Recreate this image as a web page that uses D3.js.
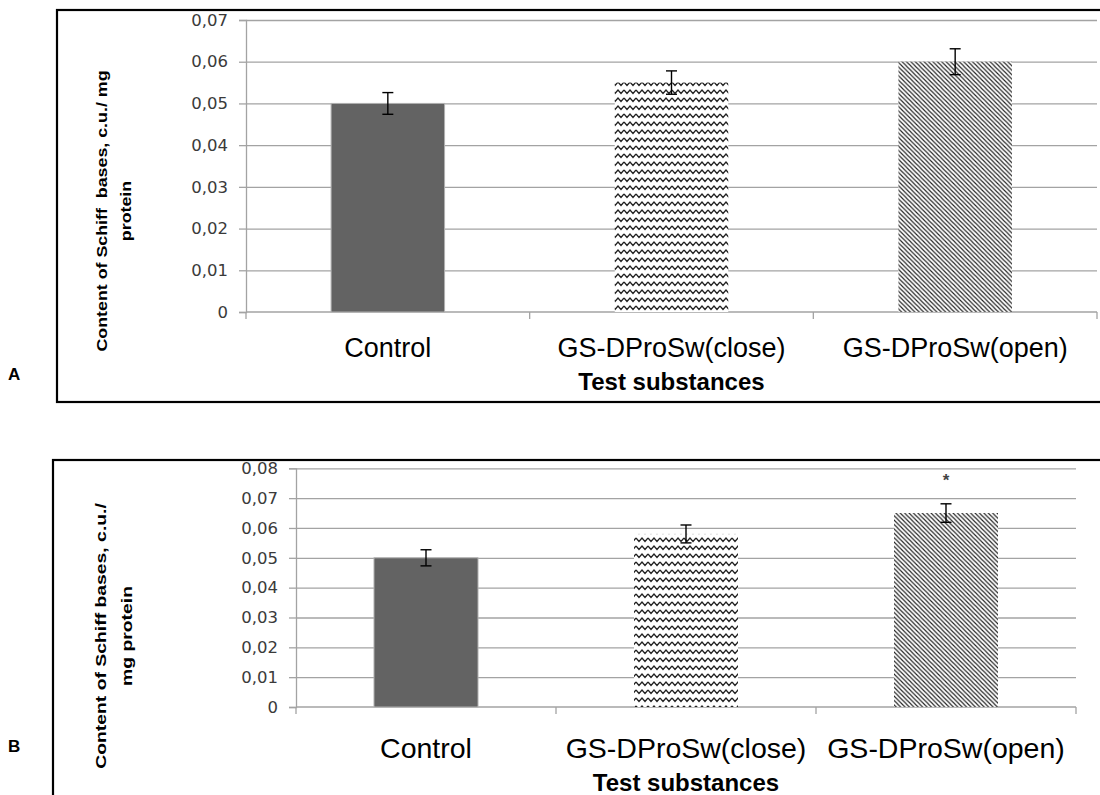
<html><head>
  <script src="https://d3js.org/d3.v7.min.js"></script>
  <style>
  body { margin: 0; background: #fff; }
  .grid line { stroke: #a3a3a3; stroke-width: 1.3; }
  .grid .domain { stroke: none; }
  .yaxis text { font-family: "DejaVu Sans", sans-serif; font-size: 16.5px; fill: #3a3a3a; }
  .yaxis line, .yaxis .domain { stroke: #a3a3a3; stroke-width: 1.3; }
  .cat { font-family: "Liberation Sans", Arial, sans-serif; fill: #000; }
  .xtitle { font-family: "Liberation Sans", Arial, sans-serif; font-weight: bold; font-size: 24px; }
  .ytitle { font-family: "Liberation Sans", Arial, sans-serif; font-weight: bold; font-size: 15.5px; white-space: pre; }
  </style>
</head>
<body>
<svg id="chart" width="1100" height="795"></svg>
<script>
// data
const categories = ["Control", "GS-DProSw(close)", "GS-DProSw(open)"];
const valuesA = [0.050, 0.055, 0.060];
const errorsA = [0.0026, 0.0028, 0.0031];
const ticksA = [0, 0.01, 0.02, 0.03, 0.04, 0.05, 0.06, 0.07];
const valuesB = [0.050, 0.058, 0.065];
const errorsB = [0.0027, 0.0030, 0.0031];
const ticksB = [0, 0.01, 0.02, 0.03, 0.04, 0.05, 0.06, 0.07, 0.08];
const marksB = ["", "", "*"];
const titleA = ["Content of Schiff  bases, c.u./ mg", "protein"];
const titleB = ["Content of Schiff bases, c.u./", "mg protein"];
const xTitle = "Test substances";

const fills = ["#636363", "url(#wave)", "url(#diag)"];

let svg = d3.select("#chart");

// patterns
let defs = svg.append("defs");
let wave = defs.append("pattern").attr("id","wave")
  .attr("patternUnits","userSpaceOnUse").attr("width",12).attr("height",8);
wave.append("rect").attr("width",12).attr("height",8).attr("fill","#fff");
wave.append("path").attr("d","M0,2 L3,5.5 L6,2 L9,5.5 L12,2")
  .attr("fill","none").attr("stroke","#222").attr("stroke-width",1.3);

let diag = defs.append("pattern").attr("id","diag")
  .attr("patternUnits","userSpaceOnUse").attr("width",4.4).attr("height",4.4);
diag.append("rect").attr("width",4.4).attr("height",4.4).attr("fill","#fff");
diag.append("path").attr("d","M-1,-1 L5.4,5.4 M3.4,-1 L5.4,1 M-1,3.4 L1,5.4")
  .attr("stroke","#222").attr("stroke-width",1.15);

function panel(cfg, values, errors, ticks, title, marks) {
  let g = svg.append("g");

  // frame
  g.append("rect")
   .attr("x",cfg.box[0]).attr("y",cfg.box[1])
   .attr("width",cfg.box[2]-cfg.box[0]).attr("height",cfg.box[3]-cfg.box[1])
   .attr("fill","none").attr("stroke","#000").attr("stroke-width",2.2);

  g.append("text")
   .attr("x",cfg.letterPos[0]).attr("y",cfg.letterPos[1])
   .attr("font-family","Liberation Sans, Arial, sans-serif")
   .attr("font-weight","bold").attr("font-size",17)
   .text(cfg.letter);

  const x = d3.scaleBand().domain(categories)
    .range([cfg.left, cfg.right]).paddingInner(0.6).paddingOuter(0.3);
  const y = d3.scaleLinear().domain([0, d3.max(ticks)]).range([cfg.bottom, cfg.top]);
  const step = x.step();

  // gridlines
  g.append("g").attr("class","grid")
   .attr("transform","translate("+cfg.left+",0)")
   .call(d3.axisLeft(y).tickValues(ticks.slice(1)).tickFormat("").tickSize(-(cfg.right-cfg.left)));

  // y axis
  g.append("g").attr("class","yaxis")
   .attr("transform","translate("+cfg.left+",0)")
   .call(d3.axisLeft(y).tickValues(ticks).tickSizeOuter(0).tickSize(7).tickPadding(11)
     .tickFormat(d => d === 0 ? "0" : d.toFixed(2).replace(".", ",")));

  // baseline + category ticks
  g.append("line")
   .attr("x1",cfg.left).attr("x2",cfg.right)
   .attr("y1",cfg.bottom).attr("y2",cfg.bottom)
   .attr("stroke","#a3a3a3").attr("stroke-width",1.3);
  d3.range(categories.length+1).forEach(i => {
    g.append("line")
     .attr("x1",cfg.left+i*step).attr("x2",cfg.left+i*step)
     .attr("y1",cfg.bottom).attr("y2",cfg.bottom+7)
     .attr("stroke","#a3a3a3").attr("stroke-width",1.3);
  });

  // bars
  categories.forEach((c,i) => {
    g.append("rect")
     .attr("x",x(c)).attr("width",x.bandwidth())
     .attr("y",y(values[i])).attr("height",cfg.bottom-y(values[i]))
     .attr("fill",fills[i])
     .attr("stroke", i === 0 ? "#b0b0b0" : "none").attr("stroke-width",1);

    let cx = x(c) + x.bandwidth()/2;
    let hi = y(values[i]+errors[i]), lo = y(values[i]-errors[i]);
    g.append("line").attr("x1",cx).attr("x2",cx).attr("y1",hi).attr("y2",lo)
     .attr("stroke","#000").attr("stroke-width",1.4);
    [hi, lo].forEach(v => {
      g.append("line").attr("x1",cx-5.5).attr("x2",cx+5.5).attr("y1",v).attr("y2",v)
       .attr("stroke","#000").attr("stroke-width",1.4);
    });

    if (marks && marks[i]) {
      g.append("text").attr("x",cx).attr("y",hi-18)
       .attr("text-anchor","middle")
       .attr("font-family","Liberation Sans, Arial, sans-serif").attr("font-size",17)
       .attr("font-weight","bold")
       .attr("fill","#444").text(marks[i]);
    }

    g.append("text").attr("class","cat")
     .attr("x",cx).attr("y",cfg.catBaseline)
     .attr("text-anchor","middle").attr("font-size",cfg.catFont)
     .text(c);
  });

  g.append("text").attr("class","xtitle")
   .attr("x",(cfg.left+cfg.right)/2).attr("y",cfg.xTitleBaseline)
   .attr("text-anchor","middle").text(xTitle);

  title.forEach((t,i) => {
    g.append("text").attr("class","ytitle")
     .attr("transform","translate("+cfg.titleX[i]+","+cfg.titleY+") rotate(-90) scale("+cfg.titleStretch+",1)")
     .attr("text-anchor","middle").attr("dominant-baseline","central")
     .text(t);
  });
}

panel({box:[57,10,1112,402], letter:"A", letterPos:[8,380],
       left:246, right:1097, top:20, bottom:312,
       catFont:27, catBaseline:357, xTitleBaseline:390,
       titleX:[102,126], titleY:211, titleStretch:1.15},
      valuesA, errorsA, ticksA, titleA, null);

panel({box:[53,460,1112,830], letter:"B", letterPos:[8,752],
       left:296, right:1076, top:468.3, bottom:707,
       catFont:28.5, catBaseline:758, xTitleBaseline:791,
       titleX:[101,127], titleY:636, titleStretch:1.25},
      valuesB, errorsB, ticksB, titleB, marksB);
</script>
</body>
</html>
